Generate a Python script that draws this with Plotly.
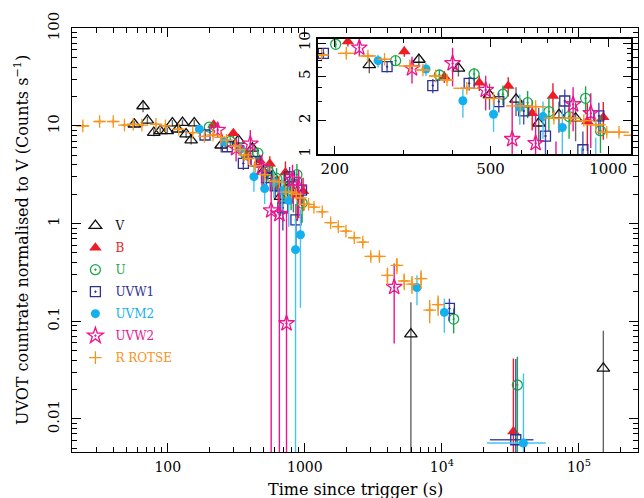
import plotly.graph_objects as go

# ---------------- data ----------------
# V
v_t = [57, 66, 71, 79, 88, 99, 108, 118, 128, 136, 148, 156, 245, 328, 414, 497, 581, 664, 748, 825, 5940, 150700]
v_f = [10.4, 16.0, 11.4, 8.55, 8.9, 8.9, 10.7, 9.25, 10.8, 8.23, 7.15, 10.7, 6.34, 7.1, 5.9, 3.4, 3.1, 1.89, 2.25, 2.1, 0.0736, 0.0329]
v_e = [0.8, 2.2, 1.0, 0.7, 0.7, 0.7, 0.8, 0.7, 0.8, 0.7, 0.7, 0.8, 1.0, 0.9, 0.9, 0.9, 0.9, 0.7, 0.7, 0.8, 0.083, 0.047]

# B
b_t = [216, 301, 381, 468, 555, 639, 722, 884, 971, 33250]
b_f = [10.3, 8.4, 4.97, 4.39, 4.1, 2.33, 3.33, 1.96, 2.14, 0.0074]
b_e = [1.0, 0.9, 0.6, 0.7, 0.8, 0.7, 1.0, 0.9, 0.8, 0.034]

# U
u_t = [201, 286, 370, 454, 538, 622, 705, 794, 875, 955, 12190, 35560]
u_f = [9.73, 6.93, 5.15, 5.26, 3.45, 2.90, 2.41, 2.17, 3.17, 1.62, 0.105, 0.0222]
u_e = [0.8, 0.7, 0.6, 0.7, 0.7, 0.8, 0.8, 0.8, 0.9, 0.6, 0.03, 0.021]

# UVW1
w1_t = [187, 272, 356, 441, 525, 608, 691, 774, 861, 946, 11350, 34600]
w1_f = [8.07, 6.12, 4.13, 4.33, 2.96, 2.44, 1.45, 3.0, 1.09, 2.2, 0.135, 0.0061]
w1_e = [0.8, 0.7, 0.6, 0.6, 0.6, 0.6, 0.6, 0.8, 0.5, 0.7, 0.035, 0.035]
w1_tp = [0, 0, 0, 0, 0, 0, 0, 0, 0, 0, 0, 12000]
w1_tm = [0, 0, 0, 0, 0, 0, 0, 0, 0, 0, 0, 12200]

# UVM2
m2_t = [170, 258, 342, 425, 509, 594, 681, 763, 855, 929, 6579, 10420, 39370]
m2_f = [9.25, 6.93, 5.83, 3.02, 2.28, 2.63, 2.17, 1.73, 0.54, 0.767, 0.221, 0.123, 0.00565]
m2_e = [0.8, 0.9, 0.8, 0.9, 0.7, 0.8, 0.8, 0.8, 0.6, 0.63, 0.075, 0.047, 0.0235]
m2_tp = [0, 0, 0, 0, 0, 0, 0, 0, 0, 0, 0, 0, 17900]
m2_tm = [0, 0, 0, 0, 0, 0, 0, 0, 0, 0, 0, 0, 18000]

# UVW2
w2_t = [231, 315, 400, 486, 568, 652, 735, 813, 902, 4487]
w2_f = [9.08, 5.91, 6.56, 3.77, 1.36, 1.25, 0.095, 2.80, 2.33, 0.224]
w2_e = [1.5, 1.6, 2.5, 1.3, 1.7, 1.42, 1.2, 1.2, 1.2, 0.165]

# R ROTSE
r_t = [24, 31.8, 40, 48.3, 55.9, 64.7, 82, 96, 120, 152, 185, 214, 243, 268, 311, 336, 362, 387,
       435, 509, 596, 652, 726, 801, 866, 929, 991, 1065, 1164, 1340, 1543, 1754, 1995, 2296,
       2647, 3029, 3501, 4006, 4695, 5310, 6050, 7047, 8146, 9385]
r_f = [10.0, 11.1, 11.1, 10.2, 10.4, 10.2, 10.4, 10.0, 9.25, 8.55, 7.8, 8.07, 7.64, 7.13, 6.21, 5.71, 5.04, 4.64,
       3.91, 3.17, 2.71, 2.67, 2.10, 2.10, 2.0, 1.83, 1.57, 1.57, 1.47, 1.32, 1.02, 0.93, 0.836, 0.715,
       0.645, 0.46, 0.46, 0.294, 0.373, 0.258, 0.24, 0.273, 0.13, 0.148]
r_e = [0.5, 0.6, 0.6, 0.5, 0.5, 0.5, 0.5, 0.5, 0.5, 0.4, 0.4, 0.4, 0.4, 0.35, 0.3, 0.3, 0.25, 0.25,
       0.2, 0.17, 0.15, 0.15, 0.12, 0.12, 0.1, 0.1, 0.09, 0.09, 0.08, 0.08, 0.06, 0.06, 0.05, 0.05,
       0.05, 0.04, 0.04, 0.06, 0.07, 0.05, 0.05, 0.06, 0.035, 0.035]
r_te = [2.5, 2.5, 2.5, 2.5, 2.5, 2.5, 5, 5, 7, 8, 8, 10.5, 12, 11, 20, 15, 14, 15,
        33, 30, 48, 40, 43, 48, 52, 56, 60, 64, 70, 80, 95, 105, 120, 140,
        160, 180, 210, 240, 280, 320, 360, 420, 490, 560]

# tick labels
main_xticks = [100, 1000, 10000, 100000]
main_xlabels = ["100", "1000", "10<sup>4</sup>", "10<sup>5</sup>"]
main_yticks = [0.01, 0.1, 1, 10, 100]
main_ylabels = ["0.01", "0.1", "1", "10", "100"]
ins_xticks = [200, 500, 1000]
ins_xlabels = ["200", "500", "1000"]
ins_yticks = [1, 2, 5, 10]
ins_ylabels = ["1", "2", "5", "10"]

FONT = "DejaVu Serif"

series = [
    dict(name="V", t=v_t, f=v_f, e=v_e, sym="triangle-up-open", col="#111111", ecol="#666666", size=11, tcol="#111111"),
    dict(name="B", t=b_t, f=b_f, e=b_e, sym="triangle-up", col="#ee1c25", ecol="#ee1c25", size=11, tcol="#ee1c25"),
    dict(name="U", t=u_t, f=u_f, e=u_e, sym="circle-open-dot", col="#16a84b", ecol="#16a84b", size=10, tcol="#16a84b"),
    dict(name="UVW1", t=w1_t, f=w1_f, e=w1_e, sym="square-open-dot", col="#2e3192", ecol="#4a4fa8", size=10,
         tcol="#2e3192", tp=w1_tp, tm=w1_tm),
    dict(name="UVM2", t=m2_t, f=m2_f, e=m2_e, sym="circle", col="#12b0ee", ecol="#45c3f2", size=9,
         tcol="#12b0ee", tp=m2_tp, tm=m2_tm),
    dict(name="UVW2", t=w2_t, f=w2_f, e=w2_e, sym="star-open-dot", col="#ec158f", ecol="#ec158f", size=12, tcol="#ec158f"),
    dict(name="R ROTSE", t=r_t, f=r_f, e=r_e, sym="cross-thin", col="#f7941d", ecol="#f7941d", size=9,
         tcol="#f7941d", tp=r_te, tm=r_te),
]

fig = go.Figure()
for s in series:
    for suf in ["", "2"]:
        open_sym = ("open" in s["sym"]) or ("thin" in s["sym"])
        marker = dict(symbol=s["sym"], size=s["size"], color=s["col"],
                      line=dict(color=s["col"], width=1.3 if open_sym else 0))
        ex = dict(visible=False)
        if "tp" in s:
            ex = dict(type="data", symmetric=False, array=s["tp"], arrayminus=s["tm"],
                      color=s["ecol"], thickness=1.4, width=0)
        fig.add_trace(go.Scatter(
            x=s["t"], y=s["f"], mode="markers", marker=marker,
            error_y=dict(type="data", array=s["e"], color=s["ecol"], thickness=1.4, width=0),
            error_x=ex,
            name='<span style="color:%s">%s</span>' % (s["tcol"], s["name"]),
            legendgroup=s["name"], showlegend=(suf == ""),
            xaxis="x" + suf, yaxis="y" + suf,
        ))

def minor_vals(decades):
    out = []
    for d in decades:
        for m in range(2, 10):
            out.append(m * d)
    return out

axis_common = dict(type="log", ticks="inside", showline=True, linecolor="black", linewidth=1,
                   mirror="ticks", showgrid=False, zeroline=False, tickcolor="black",
                   tickfont=dict(family=FONT, size=15, color="black"))

fig.update_layout(
    width=644, height=498,
    margin=dict(l=72, r=6, t=28, b=46),
    paper_bgcolor="white", plot_bgcolor="white",
    font=dict(family=FONT, color="black"),
    showlegend=True,
    legend=dict(x=0.006, y=0.568, xanchor="left", yanchor="top", bgcolor="rgba(0,0,0,0)",
                font=dict(family=FONT, size=12), tracegroupgap=3, itemwidth=30),
    xaxis=dict(axis_common, range=[1.301, 5.431], domain=[0, 1],
               tickmode="array", tickvals=main_xticks, ticktext=main_xlabels, ticklen=9, ticklabelstandoff=2,
               tickfont=dict(family=FONT, size=14, color="black"),
               minor=dict(tickmode="array", tickvals=minor_vals([10, 100, 1000, 10000, 100000]),
                          ticks="inside", ticklen=5, tickcolor="black", showgrid=False)),
    yaxis=dict(axis_common, range=[-2.34, 2.003], domain=[0, 1],
               tickmode="array", tickvals=main_yticks, ticktext=main_ylabels, ticklen=9, tickangle=-90,
               ticklabelstandoff=6,
               minor=dict(tickmode="array", tickvals=minor_vals([0.001, 0.01, 0.1, 1, 10]),
                          ticks="inside", ticklen=5, tickcolor="black", showgrid=False)),
    xaxis2=dict(axis_common, range=[2.258, 3.058], domain=[0.4346, 0.9876], anchor="y2",
                tickmode="array", tickvals=ins_xticks, ticktext=ins_xlabels, ticklen=8, linewidth=1.5,
                minor=dict(tickmode="array", tickvals=[300, 400, 600, 700, 800, 900],
                           ticks="inside", ticklen=4, tickcolor="black", showgrid=False)),
    yaxis2=dict(axis_common, range=[0, 1.036], domain=[0.703, 0.974], anchor="x2",
                tickmode="array", tickvals=ins_yticks, ticktext=ins_ylabels, ticklen=8, tickangle=-90,
                linewidth=1.5,
                minor=dict(tickmode="array", tickvals=[3, 4, 6, 7, 8, 9],
                           ticks="inside", ticklen=4, tickcolor="black", showgrid=False)),
    annotations=[
        dict(text="Time since trigger (s)", xref="paper", yref="paper", x=0.5, y=-0.088,
             xanchor="center", yanchor="middle", showarrow=False,
             font=dict(family=FONT, size=16, color="black")),
        dict(text="UVOT countrate normalised to V (Counts s<sup>−1</sup>)", xref="paper", yref="paper",
             x=-0.09, y=0.5, textangle=-90, xanchor="center", yanchor="middle", showarrow=False,
             font=dict(family=FONT, size=16, color="black")),
    ],
)

fig.write_html("out.html")
